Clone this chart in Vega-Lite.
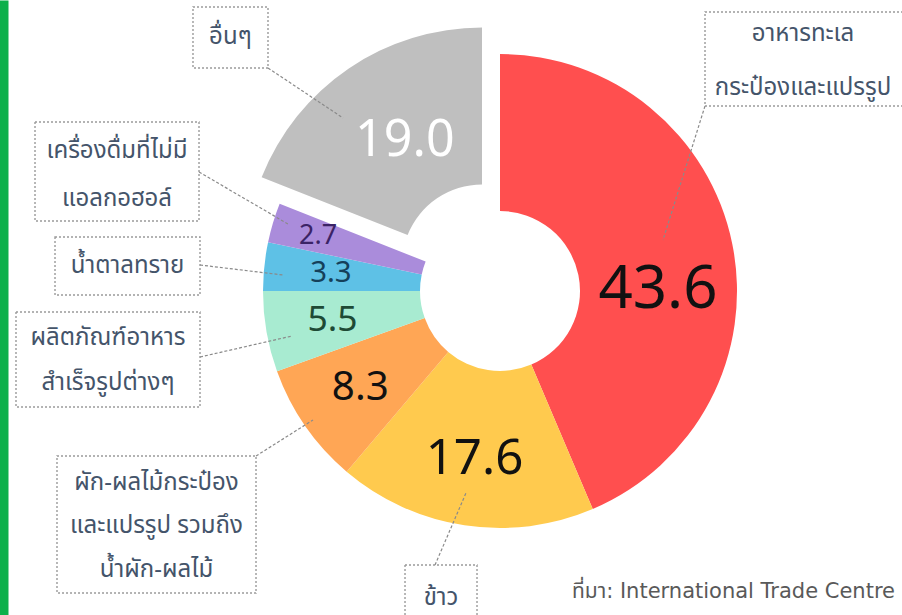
{
  "$schema": "https://vega.github.io/schema/vega-lite/v6.json",
  "width": 804,
  "height": 582,
  "padding": {"left": 98, "top": 0, "right": 0, "bottom": 33},
  "autosize": {"type": "none"},
  "background": "#ffffff",
  "config": {
    "view": {"stroke": null},
    "axisX": {"disable": true},
    "axisY": {"offset": 98, "domainColor": "#0db04b", "domainWidth": 16, "ticks": false, "labels": false, "grid": false, "titleOpacity": 0},
    "text": {"font": "Noto Sans Thai, Noto Sans, sans-serif"}
  },
  "data": {
    "values": [
      {"ord": 1, "name": "อาหารทะเลกระป๋องและแปรรูป", "label": "อาหารทะเล\nกระป๋องและแปรรูป", "value": 43.6},
      {"ord": 2, "name": "ข้าว", "label": "ข้าว", "value": 17.6},
      {"ord": 3, "name": "ผัก-ผลไม้กระป๋องและแปรรูป รวมถึงน้ำผัก-ผลไม้", "label": "ผัก-ผลไม้กระป๋อง\nและแปรรูป รวมถึง\nน้ำผัก-ผลไม้", "value": 8.3},
      {"ord": 4, "name": "ผลิตภัณฑ์อาหารสำเร็จรูปต่างๆ", "label": "ผลิตภัณฑ์อาหาร\nสำเร็จรูปต่างๆ", "value": 5.5},
      {"ord": 5, "name": "น้ำตาลทราย", "label": "น้ำตาลทราย", "value": 3.3},
      {"ord": 6, "name": "เครื่องดื่มที่ไม่มีแอลกอฮอล์", "label": "เครื่องดื่มที่ไม่มี\nแอลกอฮอล์", "value": 2.7},
      {"ord": 7, "name": "อื่นๆ", "label": "อื่นๆ", "value": 19.0}
    ]
  },
  "layer": [
    {
      "mark": {"type": "arc", "innerRadius": 80, "outerRadius": 237},
      "encoding": {
        "theta": {"field": "value", "type": "quantitative", "stack": true},
        "order": {"field": "ord", "type": "quantitative"},
        "color": {"field": "ord", "type": "nominal", "legend": null,
          "scale": {"domain": [1, 2, 3, 4, 5, 6, 7], "range": ["#ff4f4f", "#ffca4e", "#ffa655", "#a8ebd1", "#5ec1e6", "#aa8cdb", "#bfbfbf"]}},
        "opacity": {"condition": {"test": "datum.ord == 7", "value": 0}, "value": 1}
      }
    },
    {
      "mark": {"type": "arc", "innerRadius": 80, "outerRadius": 237, "xOffset": -18, "yOffset": -26.5},
      "encoding": {
        "theta": {"field": "value", "type": "quantitative", "stack": true},
        "order": {"field": "ord", "type": "quantitative"},
        "color": {"field": "ord", "type": "nominal", "legend": null},
        "opacity": {"condition": {"test": "datum.ord == 7", "value": 1}, "value": 0}
      }
    },
    {
      "mark": {"type": "text", "radius": 170, "font": "Noto Sans", "align": "center", "baseline": "middle"},
      "encoding": {
        "theta": {"field": "value", "type": "quantitative", "stack": true},
        "order": {"field": "ord", "type": "quantitative"},
        "text": {"field": "value", "type": "quantitative", "format": ".1f"},
        "size": {"field": "value", "type": "quantitative", "legend": null, "scale": {"type": "log", "domain": [2.7, 43.6], "range": [27, 60]}},
        "fill": {"field": "ord", "type": "nominal", "legend": null,
          "scale": {"domain": [1, 2, 3, 4, 5, 6, 7], "range": ["#111111", "#111111", "#111111", "#1e4a35", "#15405a", "#3b2366", "#ffffff"]}},
        "opacity": {"condition": {"test": "datum.ord >= 2 && datum.ord <= 5", "value": 1}, "value": 0}
      }
    },
    {
      "mark": {"type": "text", "radius": 190, "font": "Noto Sans", "align": "center", "baseline": "middle"},
      "encoding": {
        "theta": {"field": "value", "type": "quantitative", "stack": true},
        "order": {"field": "ord", "type": "quantitative"},
        "text": {"field": "value", "type": "quantitative", "format": ".1f"},
        "size": {"field": "value", "type": "quantitative", "legend": null},
        "fill": {"field": "ord", "type": "nominal", "legend": null},
        "opacity": {"condition": {"test": "datum.ord == 6", "value": 1}, "value": 0}
      }
    },
    {
      "mark": {"type": "text", "radius": 158, "thetaOffset": 0.194, "font": "Noto Sans", "align": "center", "baseline": "middle"},
      "encoding": {
        "theta": {"field": "value", "type": "quantitative", "stack": true},
        "order": {"field": "ord", "type": "quantitative"},
        "text": {"field": "value", "type": "quantitative", "format": ".1f"},
        "size": {"field": "value", "type": "quantitative", "legend": null},
        "fill": {"field": "ord", "type": "nominal", "legend": null},
        "opacity": {"condition": {"test": "datum.ord == 1", "value": 1}, "value": 0}
      }
    },
    {
      "mark": {"type": "text", "radius": 146, "thetaOffset": 0.04, "xOffset": -18, "yOffset": -26.5, "font": "Noto Sans", "align": "center", "baseline": "middle"},
      "encoding": {
        "theta": {"field": "value", "type": "quantitative", "stack": true},
        "order": {"field": "ord", "type": "quantitative"},
        "text": {"field": "value", "type": "quantitative", "format": ".1f"},
        "size": {"field": "value", "type": "quantitative", "legend": null},
        "fill": {"field": "ord", "type": "nominal", "legend": null},
        "opacity": {"condition": {"test": "datum.ord == 7", "value": 1}, "value": 0}
      }
    },
    {
      "transform": [{"filter": "datum.ord == 7"}],
      "layer": [
        {"mark": {"type": "rect", "filled": false, "stroke": "#9a9a9a", "strokeWidth": 1.4, "strokeDash": [2, 2]},
         "encoding": {
           "x": {"datum": -1.2954, "type": "quantitative", "scale": {"domain": [-1.6962, 1.6962], "nice": false, "zero": false}},
           "x2": {"datum": -0.9789},
           "y": {"datum": 1.1983, "type": "quantitative", "scale": {"domain": [-1.3671, 1.2278], "range": [615, 0], "nice": false, "zero": false}},
           "y2": {"datum": 0.9409}}},
        {"mark": {"type": "rule", "stroke": "#8a8a8a", "strokeWidth": 1.2, "strokeDash": [3, 2]},
         "encoding": {"x": {"datum": -0.9789, "type": "quantitative"}, "x2": {"datum": -0.6624}, "y": {"datum": 0.9409, "type": "quantitative"}, "y2": {"datum": 0.73}}},
        {"mark": {"type": "text", "fontSize": 24, "lineHeight": 45, "lineBreak": "\n", "color": "#44546a", "align": "center", "baseline": "middle"},
         "encoding": {"x": {"datum": -1.1371, "type": "quantitative"}, "y": {"datum": 1.0717, "type": "quantitative"}, "text": {"field": "label"}}}
      ]
    },
    {
      "transform": [{"filter": "datum.ord == 6"}],
      "layer": [
        {"mark": {"type": "rect", "filled": false, "stroke": "#9a9a9a", "strokeWidth": 1.4, "strokeDash": [2, 2]},
         "encoding": {"x": {"datum": -1.962, "type": "quantitative"}, "x2": {"datum": -1.27}, "y": {"datum": 0.7131, "type": "quantitative"}, "y2": {"datum": 0.2954}}},
        {"mark": {"type": "rule", "stroke": "#8a8a8a", "strokeWidth": 1.2, "strokeDash": [3, 2]},
         "encoding": {"x": {"datum": -1.27, "type": "quantitative"}, "x2": {"datum": -0.8945}, "y": {"datum": 0.5021, "type": "quantitative"}, "y2": {"datum": 0.2827}}},
        {"mark": {"type": "text", "fontSize": 24, "lineHeight": 48, "lineBreak": "\n", "color": "#44546a", "align": "center", "baseline": "middle"},
         "encoding": {"x": {"datum": -1.616, "type": "quantitative"}, "y": {"datum": 0.5907, "type": "quantitative"}, "text": {"field": "label"}}}
      ]
    },
    {
      "transform": [{"filter": "datum.ord == 5"}],
      "layer": [
        {"mark": {"type": "rect", "filled": false, "stroke": "#9a9a9a", "strokeWidth": 1.4, "strokeDash": [2, 2]},
         "encoding": {"x": {"datum": -1.8776, "type": "quantitative"}, "x2": {"datum": -1.2658}, "y": {"datum": 0.2278, "type": "quantitative"}, "y2": {"datum": -0.0169}}},
        {"mark": {"type": "rule", "stroke": "#8a8a8a", "strokeWidth": 1.2, "strokeDash": [3, 2]},
         "encoding": {"x": {"datum": -1.2658, "type": "quantitative"}, "x2": {"datum": -0.9156}, "y": {"datum": 0.1097, "type": "quantitative"}, "y2": {"datum": 0.0675}}},
        {"mark": {"type": "text", "fontSize": 24, "lineHeight": 45, "lineBreak": "\n", "color": "#44546a", "align": "center", "baseline": "middle"},
         "encoding": {"x": {"datum": -1.5717, "type": "quantitative"}, "y": {"datum": 0.1055, "type": "quantitative"}, "text": {"field": "label"}}}
      ]
    },
    {
      "transform": [{"filter": "datum.ord == 4"}],
      "layer": [
        {"mark": {"type": "rect", "filled": false, "stroke": "#9a9a9a", "strokeWidth": 1.4, "strokeDash": [2, 2]},
         "encoding": {"x": {"datum": -2.0422, "type": "quantitative"}, "x2": {"datum": -1.2658}, "y": {"datum": -0.0886, "type": "quantitative"}, "y2": {"datum": -0.4895}}},
        {"mark": {"type": "rule", "stroke": "#8a8a8a", "strokeWidth": 1.2, "strokeDash": [3, 2]},
         "encoding": {"x": {"datum": -1.2658, "type": "quantitative"}, "x2": {"datum": -0.8776}, "y": {"datum": -0.2785, "type": "quantitative"}, "y2": {"datum": -0.1899}}},
        {"mark": {"type": "text", "fontSize": 24, "lineHeight": 45, "lineBreak": "\n", "color": "#44546a", "align": "center", "baseline": "middle"},
         "encoding": {"x": {"datum": -1.654, "type": "quantitative"}, "y": {"datum": -0.1983, "type": "quantitative"}, "text": {"field": "label"}}}
      ]
    },
    {
      "transform": [{"filter": "datum.ord == 3"}],
      "layer": [
        {"mark": {"type": "rect", "filled": false, "stroke": "#9a9a9a", "strokeWidth": 1.4, "strokeDash": [2, 2]},
         "encoding": {"x": {"datum": -1.8692, "type": "quantitative"}, "x2": {"datum": -1.0295}, "y": {"datum": -0.6962, "type": "quantitative"}, "y2": {"datum": -1.2743}}},
        {"mark": {"type": "rule", "stroke": "#8a8a8a", "strokeWidth": 1.2, "strokeDash": [3, 2]},
         "encoding": {"x": {"datum": -1.0295, "type": "quantitative"}, "x2": {"datum": -0.789}, "y": {"datum": -0.6962, "type": "quantitative"}, "y2": {"datum": -0.5443}}},
        {"mark": {"type": "text", "fontSize": 24, "lineHeight": 43.5, "lineBreak": "\n", "color": "#44546a", "align": "center", "baseline": "middle"},
         "encoding": {"x": {"datum": -1.4494, "type": "quantitative"}, "y": {"datum": -0.8101, "type": "quantitative"}, "text": {"field": "label"}}}
      ]
    },
    {
      "transform": [{"filter": "datum.ord == 2"}],
      "layer": [
        {"mark": {"type": "rect", "filled": false, "stroke": "#9a9a9a", "strokeWidth": 1.4, "strokeDash": [2, 2]},
         "encoding": {"x": {"datum": -0.4008, "type": "quantitative"}, "x2": {"datum": -0.097}, "y": {"datum": -1.1561, "type": "quantitative"}, "y2": {"datum": -1.4726}}},
        {"mark": {"type": "rule", "stroke": "#8a8a8a", "strokeWidth": 1.2, "strokeDash": [3, 2]},
         "encoding": {"x": {"datum": -0.2743, "type": "quantitative"}, "x2": {"datum": -0.1435}, "y": {"datum": -1.1561, "type": "quantitative"}, "y2": {"datum": -0.8523}}},
        {"mark": {"type": "text", "fontSize": 24, "lineHeight": 45, "lineBreak": "\n", "color": "#44546a", "align": "center", "baseline": "middle"},
         "encoding": {"x": {"datum": -0.2489, "type": "quantitative"}, "y": {"datum": -1.2954, "type": "quantitative"}, "text": {"field": "label"}}}
      ]
    },
    {
      "transform": [{"filter": "datum.ord == 1"}],
      "layer": [
        {"mark": {"type": "rect", "filled": false, "stroke": "#9a9a9a", "strokeWidth": 1.4, "strokeDash": [2, 2]},
         "encoding": {"x": {"datum": 0.865, "type": "quantitative"}, "x2": {"datum": 1.7511}, "y": {"datum": 1.1772, "type": "quantitative"}, "y2": {"datum": 0.7806}}},
        {"mark": {"type": "rule", "stroke": "#8a8a8a", "strokeWidth": 1.2, "strokeDash": [3, 2]},
         "encoding": {"x": {"datum": 0.865, "type": "quantitative"}, "x2": {"datum": 0.6878}, "y": {"datum": 0.7806, "type": "quantitative"}, "y2": {"datum": 0.2152}}},
        {"mark": {"type": "text", "fontSize": 24, "lineHeight": 54, "lineBreak": "\n", "color": "#44546a", "align": "center", "baseline": "middle"},
         "encoding": {"x": {"datum": 1.2785, "type": "quantitative"}, "y": {"datum": 1.0844, "type": "quantitative"}, "text": {"field": "label"}}}
      ]
    },
    {
      "data": {"values": [{"source": "ที่มา: International Trade Centre"}]},
      "mark": {"type": "text", "fontSize": 21, "font": "DejaVu Sans, Noto Sans Thai, sans-serif", "color": "#595959", "align": "right", "baseline": "middle"},
      "encoding": {"x": {"datum": 1.6667, "type": "quantitative"}, "y": {"datum": -1.27, "type": "quantitative"}, "text": {"field": "source"}}
    }
  ]
}
